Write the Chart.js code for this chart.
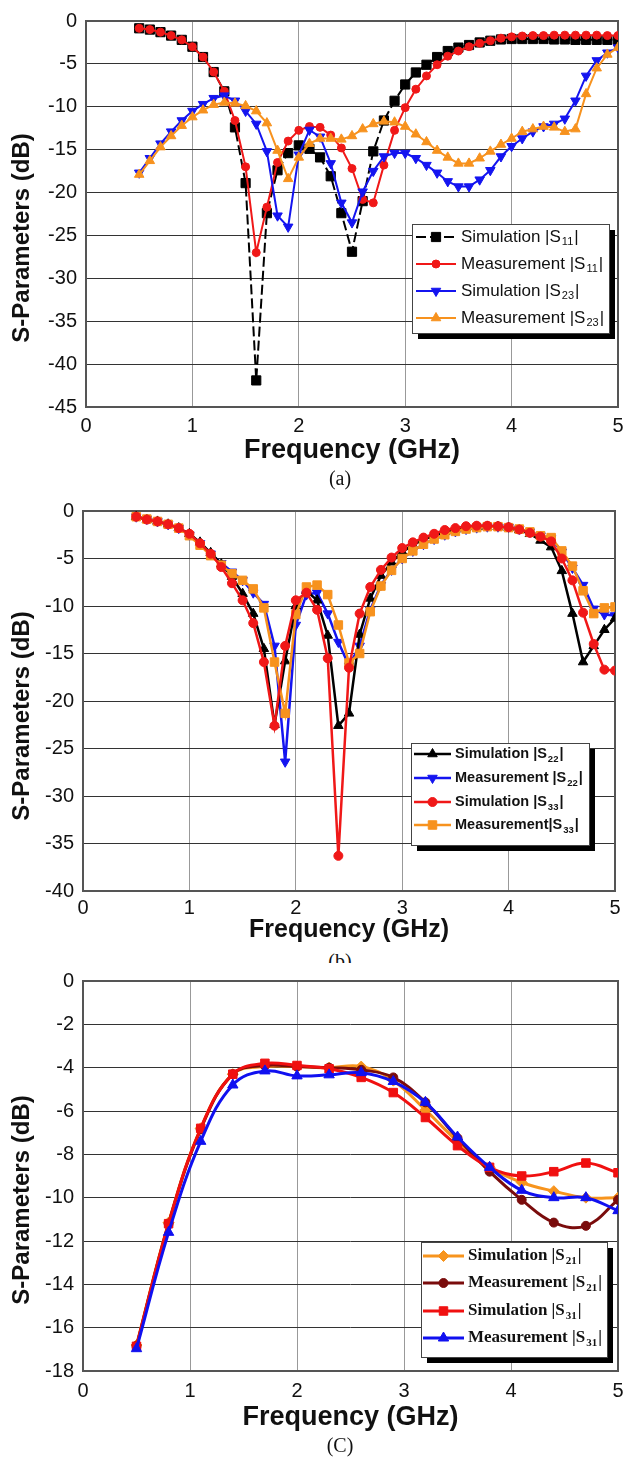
<!DOCTYPE html>
<html>
<head>
<meta charset="utf-8">
<script src="https://cdn.jsdelivr.net/npm/chart.js@4.4.1/dist/chart.umd.min.js"></script>
<style>
  body { margin: 0; background: #fff; width: 637px; height: 1460px; position: relative; overflow: hidden; }
  canvas { position: absolute; left: 0; }
  .cap { position: absolute; left: 0; width: 680px; text-align: center; font: 20px "Liberation Serif"; line-height: 24px; color: #111; }
</style>
</head>
<body>
<canvas id="chartA" width="637" height="470" style="top:0"></canvas>
<canvas id="chartB" width="637" height="455" style="top:490px"></canvas>
<div class="cap" style="top:466px">(a)</div>
<div class="cap" style="top:949px;height:14px;overflow:hidden">(b)</div>
<canvas id="chartC" width="637" height="480" style="top:960px"></canvas>
<div class="cap" style="top:1433px">(C)</div>
<script>
// Frequency points (GHz)
const freqAB = [0.5,0.6,0.7,0.8,0.9,1.0,1.1,1.2,1.3,1.4,1.5,1.6,1.7,1.8,1.9,2.0,2.1,2.2,2.3,2.4,2.5,2.6,2.7,2.8,2.9,
                3.0,3.1,3.2,3.3,3.4,3.5,3.6,3.7,3.8,3.9,4.0,4.1,4.2,4.3,4.4,4.5,4.6,4.7,4.8,4.9,5.0];
const freqC = [0.5,0.8,1.1,1.4,1.7,2.0,2.3,2.6,2.9,3.2,3.5,3.8,4.1,4.4,4.7,5.0];

// Tick labels
const xTicks = [0,1,2,3,4,5];
const yTicksA = [0,-5,-10,-15,-20,-25,-30,-35,-40,-45];
const yTicksB = [0,-5,-10,-15,-20,-25,-30,-35,-40];
const yTicksC = [0,-2,-4,-6,-8,-10,-12,-14,-16,-18];

// (a) |S11| and |S23|
const simS11 = [-0.85,-1.0,-1.3,-1.7,-2.2,-3.0,-4.2,-5.95,-8.2,-12.4,-18.9,-41.9,-22.4,-17.4,-15.4,-14.5,-14.9,-15.9,-18.1,-22.4,-26.9,
                -21.0,-15.2,-11.6,-9.3,-7.4,-6.0,-5.1,-4.2,-3.5,-3.1,-2.8,-2.5,-2.3,-2.15,-2.1,-2.1,-2.1,-2.1,-2.15,-2.15,-2.2,-2.2,-2.2,-2.2,-2.2];
const measS11 = [-0.85,-1.0,-1.3,-1.7,-2.2,-3.0,-4.2,-5.95,-8.2,-11.6,-17.0,-27.0,-21.7,-16.5,-14.0,-12.75,-12.3,-12.4,-13.3,-14.8,-17.2,
                 -20.8,-21.2,-16.8,-12.75,-10.1,-7.95,-6.4,-5.1,-4.1,-3.5,-3.0,-2.6,-2.3,-2.0,-1.85,-1.75,-1.7,-1.7,-1.65,-1.65,-1.65,-1.65,-1.65,-1.7,-1.7];
const simS23 = [-17.7,-16.0,-14.3,-12.9,-11.6,-10.5,-9.7,-9.0,-8.7,-9.3,-10.5,-12.0,-15.2,-22.7,-24.0,-15.6,-12.7,-13.5,-16.6,-21.2,-23.5,
                -19.9,-17.5,-15.8,-15.4,-15.4,-16.0,-16.8,-17.7,-18.7,-19.3,-19.3,-18.5,-17.4,-15.8,-14.6,-13.7,-12.9,-12.3,-12.0,-11.4,-9.3,-6.4,-4.6,-3.7,-3.1];
const measS23 = [-17.9,-16.3,-14.7,-13.4,-12.2,-11.2,-10.4,-9.75,-9.5,-9.6,-9.9,-10.5,-11.9,-15.1,-18.4,-15.9,-14.3,-13.7,-13.7,-13.8,-13.4,
                 -12.6,-12.0,-11.7,-11.8,-12.3,-13.2,-14.1,-15.1,-15.9,-16.6,-16.6,-16.0,-15.2,-14.4,-13.7,-12.9,-12.6,-12.3,-12.4,-12.9,-12.6,-8.5,-5.5,-3.9,-3.1];

// (b) |S22| and |S33|
const simS22 = [-0.6,-0.9,-1.1,-1.4,-1.8,-2.4,-3.3,-4.4,-5.6,-6.9,-8.7,-10.8,-14.5,-22.5,-15.8,-10.0,-8.4,-9.4,-13.1,-22.6,-21.3,
                -13.0,-9.2,-6.8,-5.4,-4.3,-3.6,-3.0,-2.6,-2.2,-1.95,-1.8,-1.7,-1.65,-1.65,-1.75,-2.0,-2.4,-3.1,-3.8,-6.3,-10.8,-15.9,-14.2,-12.5,-11.3];
const measS22 = [-0.6,-0.85,-1.1,-1.4,-1.8,-2.5,-3.4,-4.5,-5.5,-6.4,-7.3,-8.6,-9.8,-14.2,-26.4,-12.0,-8.8,-8.6,-10.8,-13.8,-16.3,
                 -14.2,-10.4,-7.8,-6.2,-5.0,-4.2,-3.5,-2.95,-2.5,-2.15,-1.9,-1.75,-1.65,-1.65,-1.7,-1.9,-2.2,-2.6,-2.9,-4.3,-6.0,-7.8,-10.3,-10.9,-11.0];
const simS33 = [-0.6,-0.9,-1.1,-1.4,-1.8,-2.4,-3.4,-4.5,-5.9,-7.6,-9.4,-11.8,-15.9,-22.6,-14.2,-9.4,-8.6,-10.4,-15.5,-36.3,-16.5,
                -10.8,-8.0,-6.2,-4.9,-3.9,-3.3,-2.8,-2.4,-2.0,-1.8,-1.6,-1.55,-1.55,-1.6,-1.7,-1.95,-2.3,-2.7,-3.2,-5.0,-7.3,-10.7,-14.0,-16.7,-16.8];
const measS33 = [-0.6,-0.85,-1.1,-1.4,-1.8,-2.6,-3.6,-4.7,-5.7,-6.6,-7.3,-8.2,-10.2,-15.9,-21.3,-10.9,-8.0,-7.8,-8.8,-12.0,-16.0,
                 -15.0,-10.6,-7.9,-6.25,-5.0,-4.2,-3.5,-2.95,-2.5,-2.15,-1.9,-1.75,-1.65,-1.65,-1.75,-1.9,-2.2,-2.6,-2.8,-4.2,-5.8,-8.4,-10.8,-10.2,-10.1];

// (c) |S21| and |S31|
const simS21  = [-16.8,-11.15,-6.8,-4.3,-3.95,-3.95,-4.0,-3.95,-4.6,-5.95,-7.4,-8.6,-9.3,-9.7,-10.0,-10.0];
const measS21 = [-16.85,-11.2,-6.85,-4.3,-3.9,-3.95,-4.0,-4.1,-4.45,-5.6,-7.25,-8.8,-10.1,-11.15,-11.3,-10.1];
const simS31  = [-16.86,-11.2,-6.8,-4.3,-3.8,-3.9,-4.05,-4.45,-5.15,-6.3,-7.6,-8.6,-9.0,-8.8,-8.4,-8.85];
const measS31 = [-16.97,-11.6,-7.4,-4.8,-4.15,-4.38,-4.33,-4.23,-4.64,-5.6,-7.2,-8.6,-9.66,-10.0,-10.0,-10.6];

const pts = (xs, ys) => xs.map((x, i) => ({ x: x, y: ys[i] }));

function series(label, xs, ys, color, style, radius, extra) {
    return Object.assign({
        label: label,
        data: pts(xs, ys),
        borderColor: color,
        backgroundColor: color,
        pointBackgroundColor: color,
        pointBorderColor: color,
        pointStyle: style,
        pointRadius: radius,
        pointHoverRadius: radius,
        pointBorderWidth: 1,
        tension: 0
    }, extra || {});
}

// plot frame, axis titles and the boxed legend with subscripts
function drawLabel(ctx, text, x, y, font, subFont, subDy) {
    const m = text.match(/^(.*\|S)(\d+)(\|)$/);
    ctx.font = font;
    ctx.fillText(m[1], x, y);
    x += ctx.measureText(m[1]).width + 1;
    ctx.font = subFont;
    ctx.fillText(m[2], x, y + subDy);
    x += ctx.measureText(m[2]).width + 1;
    ctx.font = font;
    ctx.fillText(m[3], x, y);
}

const framePlugin = {
    id: 'frame',
    beforeDatasetsDraw(chart, args, o) {
        const a = chart.chartArea, ctx = chart.ctx;
        ctx.save();
        ctx.strokeStyle = '#555';
        ctx.lineWidth = 2;
        ctx.strokeRect(a.left, a.top, a.right - a.left, a.bottom - a.top);
        ctx.restore();
    },
    afterDraw(chart, args, o) {
        const a = chart.chartArea, ctx = chart.ctx;
        ctx.save();
        ctx.fillStyle = '#111';
        ctx.textBaseline = 'middle';
        ctx.textAlign = 'center';
        // axis titles
        ctx.font = 'bold ' + o.xTitleSize + 'px "Liberation Sans"';
        ctx.fillText('Frequency (GHz)', (a.left + a.right) / 2, o.xTitleY);
        ctx.font = 'bold 24px "Liberation Sans"';
        ctx.save();
        ctx.translate(o.yTitle[0], o.yTitle[1]);
        ctx.rotate(-Math.PI / 2);
        ctx.fillText('S-Parameters (dB)', 0, 0);
        ctx.restore();

        // legend box with shadow
        const L = o.legend;
        const [x1, y1, x2, y2] = L.box;
        ctx.fillStyle = '#000';
        ctx.fillRect(x1 + 6, y1 + 6, x2 - x1, y2 - y1);
        ctx.fillStyle = '#fff';
        ctx.fillRect(x1, y1, x2 - x1, y2 - y1);
        ctx.strokeStyle = '#444';
        ctx.lineWidth = 1;
        ctx.strokeRect(x1 + 0.5, y1 + 0.5, x2 - x1, y2 - y1);

        ctx.textAlign = 'left';
        chart.data.datasets.forEach((ds, i) => {
            const y = L.rows[i];
            ctx.strokeStyle = ds.borderColor;
            ctx.fillStyle = ds.borderColor;
            ctx.lineWidth = ds.borderWidth;
            ctx.setLineDash(ds.borderDash || []);
            ctx.beginPath();
            ctx.moveTo(L.lineX[0], y);
            ctx.lineTo(L.lineX[1], y);
            ctx.stroke();
            ctx.setLineDash([]);
            ctx.lineWidth = 1;
            Chart.helpers.drawPoint(ctx, {
                pointStyle: ds.pointStyle,
                radius: ds.pointRadius,
                rotation: ds.pointRotation || 0,
                borderWidth: 1
            }, (L.lineX[0] + L.lineX[1]) / 2, y);
            ctx.fillStyle = '#111';
            drawLabel(ctx, ds.label, L.textX, y, L.font, L.subFont, L.subDy);
        });
        ctx.restore();
    }
};

function makeChart(id, geom, datasets, yTicks, frameOpts) {
    const canvas = document.getElementById(id);
    const W = canvas.width, H = canvas.height;
    const tickFont = { family: 'Liberation Sans', size: 20 };
    return new Chart(canvas.getContext('2d'), {
        type: 'line',
        data: { datasets: datasets },
        options: {
            responsive: false,
            animation: false,
            layout: { padding: { left: 0, top: geom.top, right: W - geom.right, bottom: 0 } },
            plugins: {
                legend: { display: false },
                tooltip: { enabled: false },
                frame: frameOpts
            },
            scales: {
                x: {
                    type: 'linear',
                    min: 0,
                    max: 5,
                    afterBuildTicks: s => { s.ticks = xTicks.map(v => ({ value: v })); },
                    afterFit: s => { s.height = H - geom.bottom; },
                    ticks: { font: tickFont, color: '#111', padding: geom.xPad },
                    grid: { color: '#999', lineWidth: 1, drawTicks: false },
                    border: { display: false }
                },
                y: {
                    type: 'linear',
                    min: yTicks[yTicks.length - 1],
                    max: 0,
                    afterBuildTicks: s => { s.ticks = yTicks.map(v => ({ value: v })); },
                    afterFit: s => { s.width = geom.left; },
                    ticks: { font: tickFont, color: '#111', padding: 9 },
                    grid: { color: '#333', lineWidth: 1, drawTicks: false },
                    border: { display: false }
                }
            }
        },
        plugins: [framePlugin]
    });
}

// Chart (a)
makeChart('chartA', { left: 86, top: 16, right: 618, bottom: 407, xPad: 7 }, [
    series('Simulation |S11|', freqAB, simS11, '#000000', 'rect', 6.5, { borderWidth: 2, borderDash: [10, 4], order: 4 }),
    series('Measurement |S11|', freqAB, measS11, '#f01818', 'circle', 4, { borderWidth: 2, order: 3 }),
    series('Simulation |S23|', freqAB, simS23, '#1414f0', 'triangle', 5.5, { borderWidth: 2, pointRotation: 180, order: 2 }),
    series('Measurement |S23|', freqAB, measS23, '#f7921e', 'triangle', 5.5, { borderWidth: 2, order: 1 })
], yTicksA, {
    xTitleY: 451, xTitleSize: 27, yTitle: [22, 238],
    legend: { box: [412, 224, 609, 333], rows: [237, 264, 291, 318], lineX: [416, 456], textX: 461,
              font: '17px "Liberation Sans"', subFont: '11px "Liberation Sans"', subDy: 5 }
});

// Chart (b)
makeChart('chartB', { left: 83, top: 17, right: 615, bottom: 401, xPad: 5 }, [
    series('Simulation |S22|', freqAB, simS22, '#000000', 'triangle', 5.5, { borderWidth: 2.5, order: 3 }),
    series('Measurement |S22|', freqAB, measS22, '#1414f0', 'triangle', 5.5, { borderWidth: 2.5, pointRotation: 180, order: 4 }),
    series('Simulation |S33|', freqAB, simS33, '#f01818', 'circle', 4.5, { borderWidth: 2.5, order: 1 }),
    series('Measurement|S33|', freqAB, measS33, '#f7921e', 'rect', 6, { borderWidth: 2.5, order: 2 })
], yTicksB, {
    xTitleY: 440, xTitleSize: 25, yTitle: [22, 226],
    legend: { box: [411, 253, 589, 355], rows: [264, 288, 312, 335], lineX: [414, 451], textX: 455,
              font: 'bold 14.5px "Liberation Sans"', subFont: 'bold 9.5px "Liberation Sans"', subDy: 5 }
});

// Chart (c)
makeChart('chartC', { left: 83, top: 19, right: 618, bottom: 411, xPad: 8 }, [
    series('Simulation |S21|', freqC, simS21, '#f7941d', 'rectRot', 5.5, { borderWidth: 3, tension: 0.4, order: 4 }),
    series('Measurement |S21|', freqC, measS21, '#7a0c0c', 'circle', 4.5, { borderWidth: 3, tension: 0.4, order: 3 }),
    series('Simulation |S31|', freqC, simS31, '#f01010', 'rect', 6, { borderWidth: 3, tension: 0.4, order: 2 }),
    series('Measurement |S31|', freqC, measS31, '#1010f0', 'triangle', 6, { borderWidth: 3, tension: 0.4, order: 1 })
], yTicksC, {
    xTitleY: 458, xTitleSize: 27, yTitle: [22, 240],
    legend: { box: [421, 282, 607, 397], rows: [296, 323, 351, 378], lineX: [423, 464], textX: 468,
              font: 'bold 17px "Liberation Serif"', subFont: 'bold 11px "Liberation Serif"', subDy: 5 }
});
</script>
</body>
</html>
